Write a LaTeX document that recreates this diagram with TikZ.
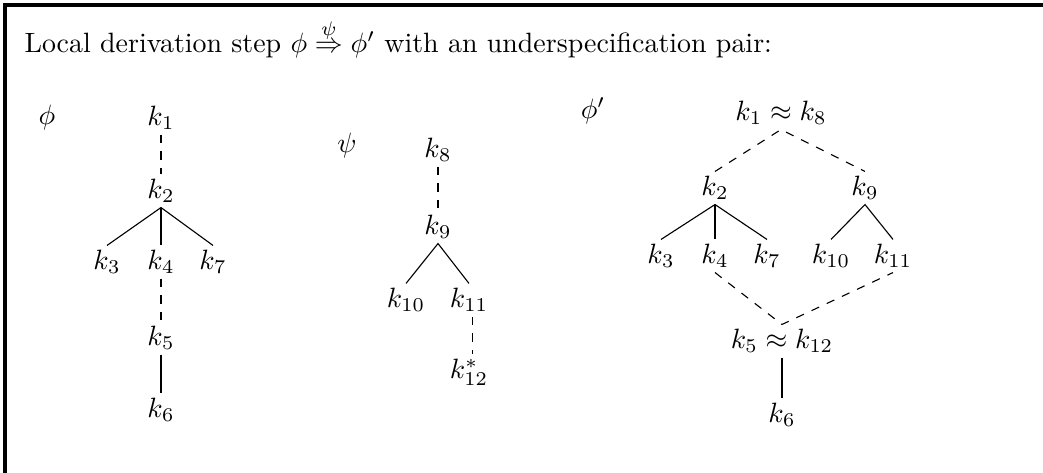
\documentclass[tikz,border=0pt]{standalone}
\begin{document}
\begin{tikzpicture}[x=0.358pt,y=-0.358pt,
  kn/.style={inner sep=1.5pt},
  lbl/.style={inner sep=0pt},
  tedge/.style={line width=0.4pt},
  dedge/.style={line width=0.4pt, dash pattern=on 3pt off 3pt}]
\useasboundingbox (0,0) rectangle (1043,473);
\draw[line width=1.45pt] (5,473) -- (5,5) -- (1043,5);
\node[lbl, anchor=base west] (title) at (24,53) {Local derivation step $\phi \stackrel{\psi}{\Rightarrow} \phi'$ with an underspecification pair:};
% phi
\node[lbl] (phi) at (47,118) {$\phi$};
\node[kn] (a1) at (161,118) {$k_1$};
\node[kn] (a2) at (161,191) {$k_2$};
\node[kn] (a3) at (107,262) {$k_3$};
\node[kn] (a4) at (161,262) {$k_4$};
\node[kn] (a7) at (213,262) {$k_7$};
\node[kn] (a5) at (161,338) {$k_5$};
\node[kn] (a6) at (161,410) {$k_6$};
\draw[dedge] (a1.south) -- (a2.north);
\draw[tedge] (a3.north) -- (a2.south) -- (a7.north);
\draw[tedge] (a2.south) -- (a4.north);
\draw[dedge] (a4.south) -- (a5.north);
\draw[tedge] (a5.south) -- (a6.north);
% psi
\node[lbl] (psi) at (347,146) {$\psi$};
\node[kn] (b8) at (438,150) {$k_8$};
\node[kn] (b9) at (438,227) {$k_9$};
\node[kn] (b10) at (406,300) {$k_{10}$};
\node[kn] (b11) at (469,300) {$k_{11}$};
\node[kn] (b12) at (469,372) {$k_{12}^*$};
\draw[dedge] (b8.south) -- (b9.north);
\draw[tedge] (b10.north) -- (b9.south) -- (b11.north);
\draw[dedge] ([xshift=1.2pt]b11.south) -- ([xshift=1.2pt]b11.south |- b12.north);
% phi'
\node[lbl] (phip) at (593,111) {$\phi'$};
\node[kn] (c1) at (781,113) {$k_1 \approx k_8$};
\node[kn] (c2) at (715,188) {$k_2$};
\node[kn] (c9) at (865,188) {$k_9$};
\node[kn] (c3) at (661,256) {$k_3$};
\node[kn] (c4) at (715,256) {$k_4$};
\node[kn] (c7) at (767,256) {$k_7$};
\node[kn] (c10) at (831,256) {$k_{10}$};
\node[kn] (c11) at (893,256) {$k_{11}$};
\node[kn] (c5) at (782,341) {$k_5 \approx k_{12}$};
\node[kn] (c6) at (782,415) {$k_6$};
\draw[dedge] (c2.north) -- (c1.south) -- (c9.north);
\draw[tedge] (c3.north) -- (c2.south) -- (c7.north);
\draw[tedge] (c2.south) -- (c4.north);
\draw[tedge] (c10.north) -- (c9.south) -- (c11.north);
\draw[dedge] (c4.south) -- (c5.north) -- (c11.south);
\draw[tedge] (c5.south) -- (c6.north);
\end{tikzpicture}
\end{document}
